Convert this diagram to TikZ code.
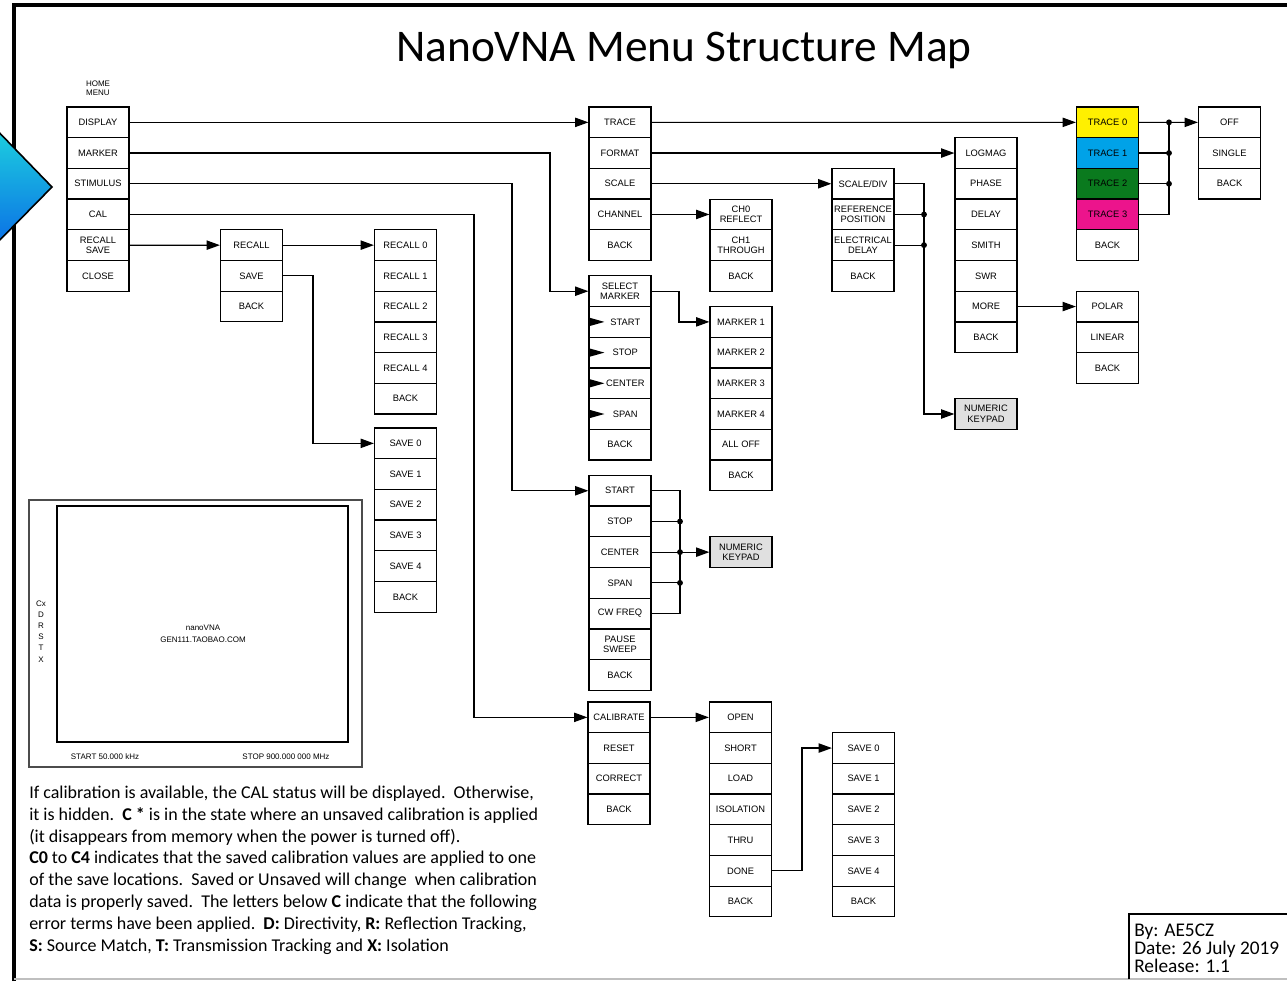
\documentclass[tikz,border=0pt]{standalone}
\usepackage{fontspec}
\setmainfont{Carlito}
\newfontfamily\cellfont{Liberation Sans}
\usetikzlibrary{arrows.meta,calc}
\definecolor{tryel}{RGB}{255,240,0}
\definecolor{trblu}{RGB}{0,162,232}
\definecolor{trgrn}{RGB}{10,122,30}
\definecolor{trmag}{RGB}{236,20,140}
\definecolor{kpgray}{RGB}{224,224,224}
\definecolor{arrtop}{RGB}{30,215,222}
\definecolor{arrbot}{RGB}{10,105,230}
\newcommand{\mcol}[3]{\foreach \nm/\lab [count=\i] in {#3}{\node[cell] (\nm) at (#1,{#2+30.7*(\i-0.5)}) {\lab};}}
\begin{document}
\begin{tikzpicture}[x=0.75pt,y=-0.75pt,
  cell/.style={draw=black,line width=0.9pt,minimum width=46.5pt,minimum height=23pt,inner sep=0pt,align=center,font=\cellfont\fontsize{7}{8}\selectfont},
  arr/.style={line width=0.9pt,-{Triangle[length=10pt,width=7pt]}},
  conn/.style={line width=0.9pt},
  dot/.style={fill=black},
  small/.style={font=\cellfont\fontsize{6}{7}\selectfont,inner sep=0pt,align=center},
  para/.style={font=\fontsize{13.5}{15}\selectfont,inner sep=0pt,anchor=base west},
  sig/.style={font=\fontsize{14.5}{16}\selectfont,inner sep=0pt,anchor=base west}]
\fill[white] (0,0) rectangle (1287,981);
\useasboundingbox (0,0) rectangle (1287,981);
% frame
\draw[line width=2.4pt] (14,981) -- (14,5) -- (1287,5);
\draw[gray!50,line width=0.8pt] (14,979) -- (1287,979);
% left arrow shape
\shade[top color=arrtop,bottom color=arrbot,draw=black,line width=1.2pt] (-12,121) -- (52,187) -- (-12,252) -- cycle;
% title
\node[font=\fontsize{34}{38}\selectfont,anchor=base,inner sep=0pt] (title) at (684,62) {NanoVNA Menu Structure Map};
% home menu
\node[small] (hmlbl) at (98,88) {HOME\\MENU};
\mcol{98}{107}{disp/DISPLAY,mk/MARKER,stim/STIMULUS,cal/CAL,rs/{RECALL\\SAVE},close/CLOSE}
% recall/save
\mcol{251.5}{229.8}{recall/RECALL,save/SAVE,rsback/BACK}
\mcol{405.5}{229.8}{rc0/RECALL 0,rc1/RECALL 1,rc2/RECALL 2,rc3/RECALL 3,rc4/RECALL 4,rcback/BACK}
\mcol{405.5}{428}{sv0/SAVE 0,sv1/SAVE 1,sv2/SAVE 2,sv3/SAVE 3,sv4/SAVE 4,svback/BACK}
% display
\mcol{620}{107}{trace/TRACE,format/FORMAT,scale/SCALE,chan/CHANNEL,dback/BACK}
\mcol{741}{199.1}{ch0/{CH0\\REFLECT},ch1/{CH1\\THROUGH},chback/BACK}
\mcol{863}{168.4}{sdiv/{SCALE/DIV},refpos/{REFERENCE\\POSITION},eldel/{ELECTRICAL\\DELAY},scback/BACK}
\mcol{986}{137.7}{logmag/LOGMAG,phase/PHASE,delay/DELAY,smith/SMITH,swr/SWR,more/MORE,fback/BACK}
\node[cell,fill=tryel] (tr0) at (1107.5,122.35) {TRACE 0};
\node[cell,fill=trblu] (tr1) at (1107.5,153.05) {TRACE 1};
\node[cell,fill=trgrn] (tr2) at (1107.5,183.75) {TRACE 2};
\node[cell,fill=trmag] (tr3) at (1107.5,214.45) {TRACE 3};
\node[cell] (trback) at (1107.5,245.15) {BACK};
\mcol{1229.5}{107}{off/OFF,single/SINGLE,offback/BACK}
\mcol{1107.5}{291.2}{polar/POLAR,linear/LINEAR,pback/BACK}
\node[cell,fill=kpgray] (nk1) at (986,414) {NUMERIC\\KEYPAD};
% marker
\mcol{620}{275.85}{selm/{SELECT\\MARKER},mstart/{\hspace*{8pt}START},mstop/{\hspace*{8pt}STOP},mcenter/{\hspace*{8pt}CENTER},mspan/{\hspace*{8pt}SPAN},mback/BACK}
\mcol{741}{306.55}{mk1/MARKER 1,mk2/MARKER 2,mk3/MARKER 3,mk4/MARKER 4,alloff/ALL OFF,mkback/BACK}
\foreach \nm in {mstart,mstop,mcenter,mspan}{
  \fill ($(\nm.west)+(0,-4.5)$) -- ($(\nm.west)+(16,0)$) -- ($(\nm.west)+(0,4.5)$) -- cycle;}
% stimulus
\mcol{620}{475.4}{sstart/START,sstop/STOP,scenter/CENTER,sspan/SPAN,cw/CW FREQ,pause/{PAUSE\\SWEEP},sback/BACK}
\node[cell,fill=kpgray] (nk2) at (741,552.15) {NUMERIC\\KEYPAD};
% cal
\mcol{619}{702}{calib/CALIBRATE,reset/RESET,correct/CORRECT,cback/BACK}
\mcol{740.5}{702}{open/OPEN,short/SHORT,load/LOAD,isol/ISOLATION,thru/THRU,done/DONE,oback/BACK}
\mcol{863.5}{732.7}{csv0/SAVE 0,csv1/SAVE 1,csv2/SAVE 2,csv3/SAVE 3,csv4/SAVE 4,csback/BACK}
% vertical routing coordinates
\coordinate (vm) at (550,0);
\coordinate (vs) at (512,0);
\coordinate (vc) at (474,0);
\coordinate (vsv) at (313,0);
\coordinate (vk) at (924,0);
\coordinate (vt) at (1169,0);
\coordinate (vmk) at (679,0);
\coordinate (vn) at (680,0);
\coordinate (vd) at (802,0);
% connectors
\draw[arr] (disp.east) -- (trace.west);
\draw[arr] (mk.east) -| (vm |- selm.west) -- (selm.west);
\draw[arr] (stim.east) -| (vs |- sstart.west) -- (sstart.west);
\draw[arr] (cal.east) -| (vc |- calib.west) -- (calib.west);
\draw[arr] (rs.east) -- (recall.west);
\draw[arr] (recall.east) -- (rc0.west);
\draw[arr] (save.east) -| (vsv |- sv0.west) -- (sv0.west);
\draw[arr] (trace.east) -- (tr0.west);
\draw[arr] (format.east) -- (format.east -| logmag.west);
\draw[arr] (scale.east) -- (scale.east -| sdiv.west);
\draw[arr] (chan.east) -- (chan.east -| ch0.west);
\draw[arr] (sdiv.east) -| (vk |- nk1.west) -- (nk1.west);
\draw[conn] (refpos.east) -- (refpos.east -| vk);
\draw[conn] (eldel.east) -- (eldel.east -| vk);
\fill[dot] (refpos.east -| vk) circle[radius=2.2pt];
\fill[dot] (eldel.east -| vk) circle[radius=2.2pt];
\draw[arr] (more.east) -- (more.east -| polar.west);
\draw[arr] (tr0.east) -- (off.west);
\draw[conn] (tr3.east) -| (vt |- tr0.east);
\draw[conn] (tr1.east) -- (tr1.east -| vt);
\draw[conn] (tr2.east) -- (tr2.east -| vt);
\fill[dot] (tr0.east -| vt) circle[radius=2.2pt];
\fill[dot] (tr1.east -| vt) circle[radius=2.2pt];
\fill[dot] (tr2.east -| vt) circle[radius=2.2pt];
\draw[arr] (selm.east) -| (vmk |- mk1.west) -- (mk1.west);
\draw[conn] (sstart.east) -| (vn |- cw.east) -- (cw.east);
\draw[conn] (sstop.east) -- (sstop.east -| vn);
\draw[conn] (sspan.east) -- (sspan.east -| vn);
\draw[arr] (scenter.east) -- (scenter.east -| nk2.west);
\fill[dot] (sstop.east -| vn) circle[radius=2.2pt];
\fill[dot] (scenter.east -| vn) circle[radius=2.2pt];
\fill[dot] (sspan.east -| vn) circle[radius=2.2pt];
\draw[arr] (calib.east) -- (open.west);
\draw[arr] (done.east) -| (vd |- csv0.west) -- (csv0.west);
% screen
\draw[black!70,line width=0.8pt] (29,500) rectangle (362,767);
\draw[black,line width=0.8pt] (57,506) rectangle (348,742);
\node[small] (scr1) at (203,628) {nanoVNA};
\node[small] (scr2) at (203,640) {GEN111.TAOBAO.COM};
\node[small] (scrst) at (105,757) {START 50.000 kHz};
\node[small] (scrsp) at (286,757) {STOP 900.000 000 MHz};
\node[small] (cx) at (41,604) {Cx};
\node[small] (cd) at (41,615) {D};
\node[small] (cr) at (41,626) {R};
\node[small] (cs) at (41,637) {S};
\node[small] (ct) at (41,648) {T};
\node[small] (cxx) at (41,660) {X};
% paragraph
\node[para] (p1) at (29,798) {If calibration is available, the CAL status will be displayed.\ \ Otherwise,};
\node[para] (p2) at (29,820) {it is hidden.\ \ \textbf{C *} is in the state where an unsaved calibration is applied};
\node[para] (p3) at (29,842) {(it disappears from memory when the power is turned off).};
\node[para] (p4) at (29,863) {\textbf{C0} to \textbf{C4} indicates that the saved calibration values are applied to one};
\node[para] (p5) at (29,885) {of the save locations.\ \ Saved or Unsaved will change\ \ when calibration};
\node[para] (p6) at (29,907) {data is properly saved.\ \ The letters below \textbf{C} indicate that the following};
\node[para] (p7) at (29,929) {error terms have been applied.\ \ \textbf{D:} Directivity, \textbf{R:} Reflection Tracking,};
\node[para] (p8) at (29,951) {\textbf{S:} Source Match, \textbf{T:} Transmission Tracking and \textbf{X:} Isolation};
% signature box
\draw[line width=0.8pt] (1129,979) -- (1129,914) -- (1287,914);
\node[sig] (by) at (1134,936) {By: AE5CZ};
\node[sig] (date) at (1134,954) {Date: 26 July 2019};
\node[sig] (rel) at (1134,972) {Release: 1.1};
\end{tikzpicture}
\end{document}
